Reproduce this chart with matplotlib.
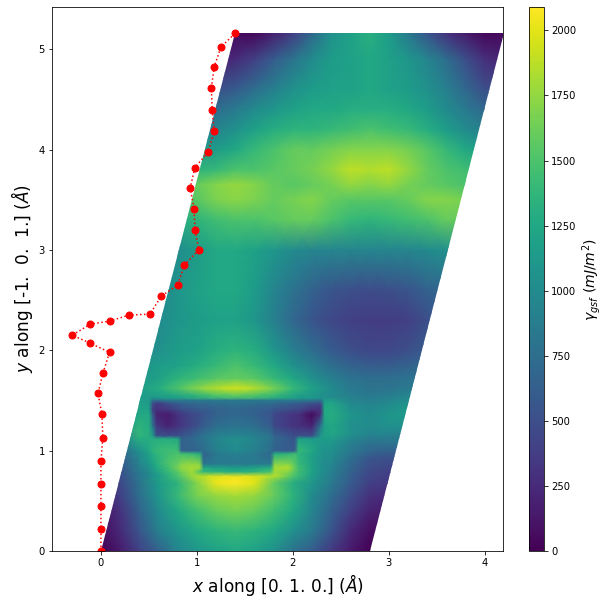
import matplotlib
matplotlib.use('Agg')
import matplotlib.pyplot as plt
from matplotlib.patches import Polygon
import numpy as np

# gsf surface (mJ/m^2), rows are y, columns are x
x_cols = [0, .2, .4, .6, .8, 1, 1.2, 1.4, 1.6, 1.8, 2, 2.2, 2.4, 2.6, 2.8, 3, 3.2, 3.4, 3.6, 3.8, 4, 4.2]
y_rows = [0, .2, .4, .55, .68, .78, .85, .92, 1.0, 1.08, 1.17, 1.25, 1.35, 1.46, 1.54, 1.62, 1.72, 1.85,
          2.0, 2.3, 2.6, 3.0, 3.3, 3.5, 3.65, 3.8, 4.0, 4.2, 4.4, 4.6, 4.9, 5.16]
gamma = [
    [0, 150, 400, 650, 950, 1100, 1200, 1250, 1200, 1050, 800, 600, 350, 150, 0, 0, 0, 0, 0, 0, 0, 0],
    [50, 250, 550, 900, 1100, 1250, 1350, 1400, 1350, 1250, 1050, 850, 550, 250, 80, 80, 80, 80, 80, 80, 80, 80],
    [100, 300, 650, 1000, 1250, 1450, 1600, 1650, 1600, 1450, 1250, 950, 650, 400, 200, 150, 150, 150, 150, 150, 150, 150],
    [150, 400, 750, 1100, 1400, 1650, 1750, 1800, 1750, 1600, 1350, 1000, 750, 500, 300, 250, 250, 250, 250, 250, 250, 250],
    [200, 450, 800, 1150, 1350, 1700, 2030, 2090, 2000, 1600, 1300, 1100, 850, 600, 400, 350, 350, 350, 350, 350, 350, 350],
    [250, 500, 850, 1200, 1550, 1900, 1950, 2000, 1950, 1900, 1600, 1200, 900, 650, 450, 400, 400, 400, 400, 400, 400, 400],
    [300, 550, 900, 1250, 1650, 1800, 900, 800, 850, 1750, 1650, 1250, 950, 700, 500, 450, 450, 450, 450, 450, 450, 450],
    [350, 600, 950, 1300, 1500, 1500, 800, 800, 800, 1300, 1500, 1250, 1000, 750, 550, 500, 500, 500, 500, 500, 500, 500],
    [400, 700, 1050, 1500, 900, 750, 800, 850, 800, 750, 1200, 1350, 1050, 850, 700, 650, 650, 650, 650, 650, 650, 650],
    [500, 800, 1250, 1400, 700, 700, 850, 900, 850, 600, 700, 1300, 1100, 900, 800, 800, 800, 800, 800, 800, 800, 800],
    [600, 900, 1400, 1000, 600, 600, 850, 950, 850, 600, 550, 700, 1250, 1050, 950, 950, 900, 900, 900, 900, 900, 900],
    [700, 1000, 1350, 350, 350, 500, 700, 800, 700, 500, 350, 100, 1250, 1050, 1000, 1050, 1050, 1050, 1050, 1050, 1050, 1050],
    [800, 1050, 1250, 250, 300, 500, 700, 750, 700, 500, 300, 100, 1300, 1100, 1000, 1100, 1150, 1150, 1150, 1150, 1150, 1150],
    [900, 1100, 1200, 500, 600, 750, 850, 900, 850, 750, 600, 500, 1250, 1000, 950, 1000, 1100, 1100, 1100, 1100, 1100, 1100],
    [1000, 1100, 1150, 1150, 1200, 1300, 1450, 1500, 1450, 1350, 1200, 1100, 1000, 900, 850, 900, 950, 950, 950, 950, 950, 950],
    [1050, 1100, 1150, 1300, 1500, 1700, 1850, 1950, 1850, 1650, 1400, 1200, 1000, 850, 800, 800, 850, 850, 850, 850, 850, 850],
    [1050, 1050, 1100, 1200, 1350, 1450, 1550, 1600, 1550, 1400, 1250, 1050, 900, 800, 750, 750, 800, 800, 800, 800, 800, 800],
    [1000, 1050, 1100, 1150, 1200, 1300, 1400, 1500, 1400, 1250, 1050, 900, 750, 650, 600, 600, 650, 700, 700, 700, 700, 700],
    [950, 950, 950, 1050, 1150, 1200, 1300, 1350, 1300, 1100, 900, 750, 600, 500, 450, 450, 500, 600, 650, 650, 650, 650],
    [1000, 1000, 1000, 1000, 1100, 1150, 1200, 1200, 1100, 900, 700, 550, 450, 400, 370, 370, 400, 500, 600, 600, 600, 600],
    [950, 950, 950, 950, 1100, 1200, 1250, 1250, 1150, 950, 800, 650, 550, 500, 480, 500, 550, 650, 700, 750, 750, 750],
    [1000, 1000, 1000, 1000, 1000, 1150, 1250, 1250, 1200, 1100, 1000, 950, 950, 950, 950, 950, 950, 1000, 1050, 1000, 1000, 1000],
    [1300, 1300, 1300, 1300, 1300, 1350, 1450, 1500, 1500, 1550, 1600, 1600, 1500, 1400, 1350, 1400, 1450, 1500, 1600, 1600, 1500, 1500],
    [1500, 1500, 1500, 1500, 1500, 1550, 1680, 1720, 1680, 1600, 1650, 1700, 1600, 1550, 1550, 1550, 1600, 1700, 1700, 1650, 1500, 1500],
    [1600, 1600, 1600, 1600, 1600, 1600, 1700, 1760, 1700, 1600, 1550, 1600, 1650, 1750, 1700, 1750, 1650, 1600, 1550, 1500, 1500, 1500],
    [1350, 1350, 1350, 1350, 1350, 1350, 1400, 1500, 1500, 1550, 1600, 1650, 1750, 1880, 1850, 1880, 1750, 1600, 1500, 1450, 1400, 1400],
    [1100, 1100, 1100, 1100, 1100, 1100, 1150, 1250, 1400, 1500, 1600, 1600, 1650, 1700, 1700, 1700, 1650, 1550, 1400, 1250, 1150, 1150],
    [950, 950, 950, 950, 950, 950, 950, 1050, 1200, 1300, 1350, 1350, 1400, 1450, 1500, 1450, 1400, 1300, 1150, 1000, 900, 900],
    [750, 750, 750, 750, 750, 750, 750, 850, 1000, 1100, 1200, 1250, 1250, 1300, 1300, 1300, 1250, 1150, 1000, 850, 700, 700],
    [500, 500, 500, 500, 500, 500, 500, 600, 750, 900, 1050, 1150, 1200, 1200, 1250, 1200, 1150, 1050, 900, 700, 500, 500],
    [200, 200, 200, 200, 200, 200, 200, 250, 400, 600, 800, 1000, 1150, 1200, 1250, 1200, 1100, 950, 750, 500, 280, 200],
    [50, 50, 50, 50, 50, 50, 50, 50, 40, 180, 370, 700, 1050, 1200, 1320, 1150, 850, 550, 300, 150, 40, 50],
]

# finer reading around the stepped trough
trough_x = [.4, .5, .54, .58, .7, .8, .84, .95, 1.03, 1.07, 1.2, 1.4, 1.6, 1.77, 1.81, 1.95, 2.02, 2.06, 2.2, 2.29, 2.33, 2.4]
trough_y = [.74, .79, .83, .87, .97, 1.0, 1.12, 1.15, 1.25, 1.36, 1.41, 1.47, 1.505, 1.53]
trough_gamma = [
    [820, 960, 1030, 1100, 1300, 1480, 1550, 1750, 1880, 1920, 2030, 2060, 2030, 1880, 1850, 1600, 1450, 1400, 1150, 1000, 950, 870],
    [850, 1000, 1100, 1200, 1400, 1550, 1650, 1800, 1500, 1400, 1350, 1300, 1350, 1500, 1800, 1700, 1550, 1450, 1200, 1050, 1000, 900],
    [900, 1050, 1150, 1250, 1450, 1650, 1750, 1800, 1800, 1250, 1200, 1150, 1200, 1300, 1800, 1850, 1600, 1450, 1200, 1050, 1000, 950],
    [950, 1100, 1200, 1300, 1500, 1600, 1700, 1750, 1700, 800, 850, 850, 850, 850, 1700, 1700, 1550, 1400, 1200, 1050, 1000, 980],
    [1000, 1200, 1300, 1350, 1450, 1500, 1450, 1400, 1300, 650, 850, 900, 850, 700, 1300, 1350, 1450, 1350, 1200, 1100, 1050, 1030],
    [1050, 1250, 1350, 1400, 1450, 1450, 650, 650, 700, 750, 900, 1000, 900, 750, 650, 600, 600, 1400, 1250, 1100, 1050, 1050],
    [1300, 1300, 1300, 1300, 1300, 1250, 650, 700, 800, 800, 950, 1050, 950, 800, 700, 600, 550, 1200, 1150, 1150, 1150, 1150],
    [1370, 1300, 1150, 500, 500, 500, 550, 650, 750, 800, 900, 950, 900, 800, 650, 550, 500, 500, 500, 1100, 1200, 1200],
    [1350, 1300, 800, 350, 200, 300, 350, 450, 550, 600, 750, 800, 750, 600, 450, 350, 300, 300, 200, 800, 1200, 1250],
    [1250, 1250, 600, 200, 150, 300, 350, 450, 500, 550, 650, 700, 650, 550, 450, 350, 300, 300, 50, 300, 1250, 1300],
    [1220, 1200, 400, 300, 350, 450, 500, 550, 600, 600, 650, 700, 650, 600, 550, 500, 450, 450, 300, 300, 1250, 1280],
    [1200, 1150, 500, 350, 500, 600, 650, 700, 720, 720, 750, 800, 750, 720, 700, 650, 600, 600, 500, 450, 1200, 1250],
    [1150, 1150, 800, 800, 850, 850, 850, 850, 850, 850, 850, 850, 850, 850, 850, 850, 850, 850, 850, 800, 1150, 1150],
    [1150, 1150, 1150, 1150, 1200, 1250, 1280, 1350, 1400, 1420, 1500, 1550, 1500, 1400, 1350, 1300, 1250, 1200, 1150, 1100, 1050, 1000],
]

# minimum energy path
path_x = [0, 0, 0, 0, 0, .02, .01, -.03, .02, .09, -.11, -.3, -.11, .09, .29, .51, .63, .8, .87, 1.02,
          .98, .97, .93, .98, 1.12, 1.18, 1.16, 1.15, 1.18, 1.25, 1.4]
path_y = [0, .22, .45, .67, .9, 1.13, 1.36, 1.57, 1.77, 1.98, 2.07, 2.15, 2.26, 2.29, 2.35, 2.36, 2.54, 2.65,
          2.85, 3.0, 3.2, 3.41, 3.62, 3.82, 3.98, 4.18, 4.39, 4.61, 4.82, 5.02, 5.16]

# cell vectors of the slip plane
a_len = 2.8
b_x, b_y = 1.4, 5.16

fig = plt.figure(figsize=(609 / 72, 605 / 72), dpi=72)
ax = fig.add_axes([52 / 609, 1 - 551 / 605, 451 / 609, 544 / 605])

mesh = ax.pcolormesh(x_cols, y_rows, np.array(gamma), shading='gouraud', cmap='viridis', vmin=0, vmax=2090)
mesh2 = ax.pcolormesh(trough_x, trough_y, np.array(trough_gamma), shading='gouraud', cmap='viridis', vmin=0, vmax=2090)
cell = Polygon([(0, 0), (a_len, 0), (a_len + b_x, b_y), (b_x, b_y)], transform=ax.transData, fc='none', ec='none')
ax.add_patch(cell)
mesh.set_clip_path(cell)
mesh2.set_clip_path(cell)

ax.plot(path_x, path_y, 'ro:', markersize=7)

ax.set_xlim(-0.51, 4.19)
ax.set_ylim(0, 5.42)
ax.set_xticks([0, 1, 2, 3, 4])
ax.set_yticks([0, 1, 2, 3, 4, 5])
ax.set_xlabel(r'$x$ along [0. 1. 0.] ($\AA$)', fontsize=17)
ax.set_ylabel(r'$y$ along [-1.  0.  1.] ($\AA$)', fontsize=17)

cax = fig.add_axes([529 / 609, 1 - 551 / 605, 15 / 609, 544 / 605])
cb = fig.colorbar(mesh, cax=cax)
cb.set_ticks(np.arange(0, 2001, 250))
cb.set_label(r'$\gamma_{gsf}\ (mJ/m^2)$', fontsize=14)

plt.savefig('out.png', dpi=72)
